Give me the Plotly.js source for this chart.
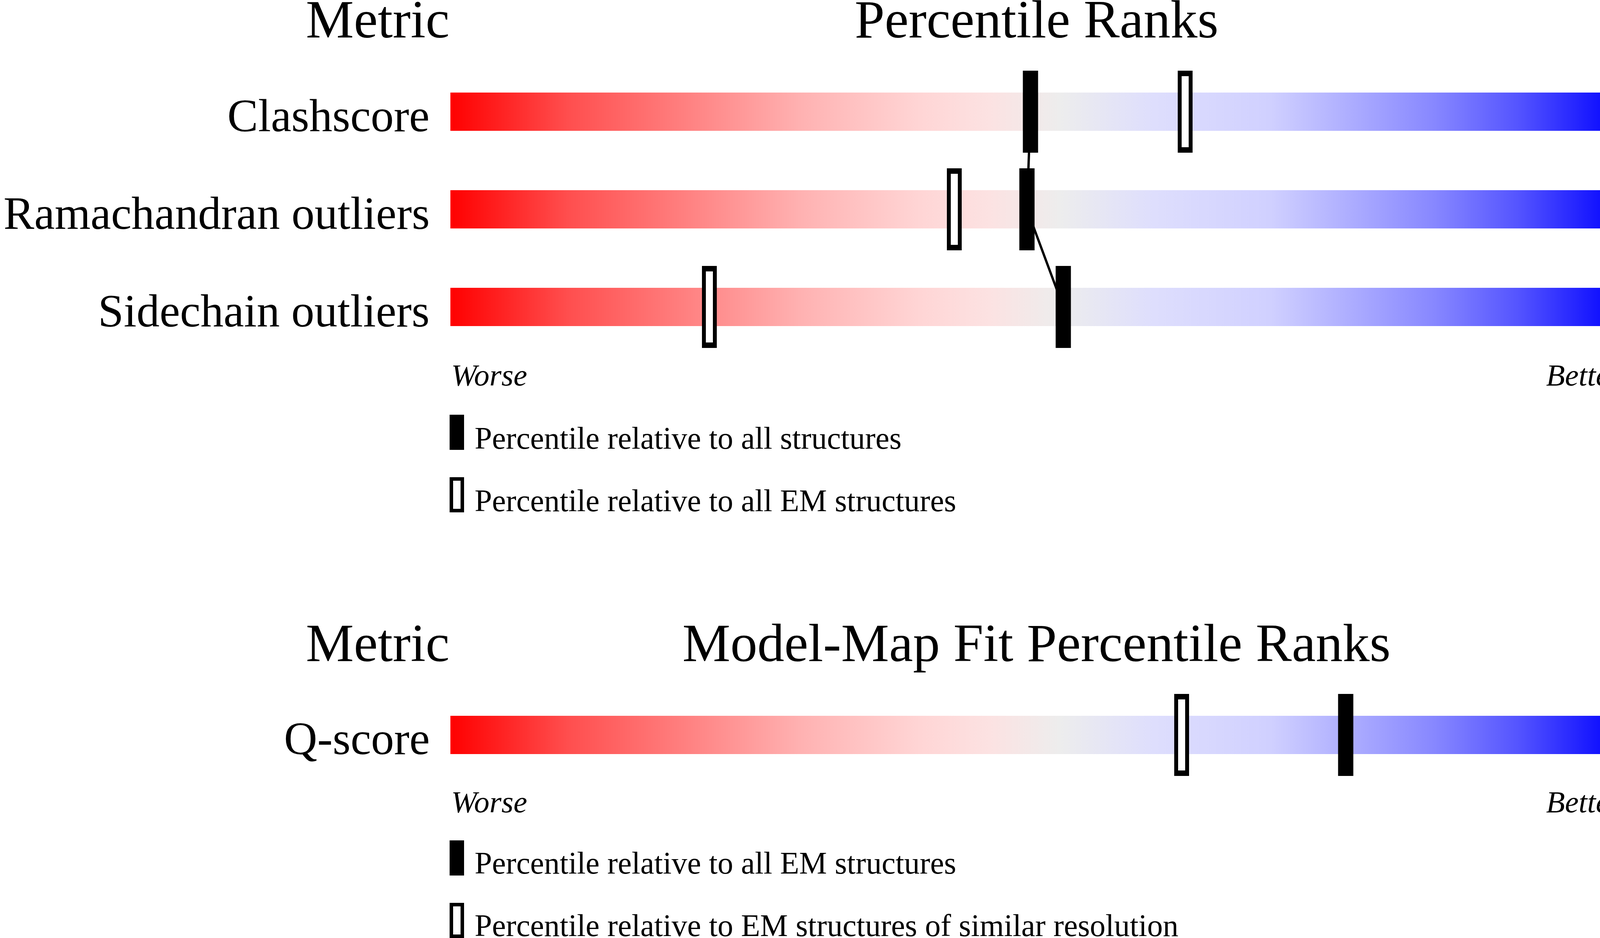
<!DOCTYPE html>
<html>
<head>
<meta charset="utf-8">
<script src="https://cdn.plot.ly/plotly-3.0.1.min.js"></script>
<style>
  html, body { margin: 0; padding: 0; background: #fff; }
  #chart { width: 4485px; height: 2402px; }
</style>
</head>
<body>
<div id="chart"></div>
<script>
// geometry / percentile rank data
const metrics = ["Clashscore", "Ramachandran outliers", "Sidechain outliers"];
const metricValues = ["6", "0.1%", "1.7%"];
const pctAll = [49.5, 49.2, 52.3];        // relative to all structures
const pctAllEM = [62.7, 43.0, 22.1];      // relative to all EM structures

// model-map fit
const fitMetrics = ["Q-score"];
const fitValues = ["0.525"];
const fitPctAllEM = [76.4];               // relative to all EM structures
const fitPctSimilar = [62.4];             // relative to EM structures of similar resolution

const W = 4485, H = 2402;
const FONT = "Liberation Serif, Times New Roman, serif";
const px = v => v / W;
const py = v => 1 - v / H;

const gradient = [
  [0, "rgb(255,0,0)"], [0.1, "rgb(255,78,78)"], [0.2, "rgb(255,128,128)"],
  [0.3, "rgb(255,178,178)"], [0.4, "rgb(255,213,213)"], [0.46, "rgb(252,226,226)"],
  [0.52, "rgb(237,237,237)"], [0.6, "rgb(222,222,253)"], [0.7, "rgb(208,208,255)"],
  [0.77, "rgb(172,172,255)"], [0.84, "rgb(135,135,255)"], [0.91, "rgb(85,85,255)"],
  [1, "rgb(0,0,255)"]
];

const HALF = 0.196;   // half bar height, in row units
const traces = [];

function addBars(n, yaxis) {
  for (let i = 0; i < n; i++) {
    traces.push({
      x: [0, 100, 100, 0, 0],
      y: [i - HALF, i - HALF, i + HALF, i + HALF, i - HALF],
      xaxis: "x", yaxis: yaxis,
      type: "scatter", mode: "lines", line: { width: 0 },
      fill: "toself",
      fillgradient: { type: "horizontal", colorscale: gradient, start: 0, stop: 100 },
      hoverinfo: "skip", showlegend: false
    });
  }
}

function filled(xs, yaxis) {
  traces.push({
    x: xs, y: xs.map((_, i) => i), xaxis: "x", yaxis: yaxis,
    type: "scatter", mode: "markers",
    marker: { symbol: "line-ns", size: 150, color: "#000", line: { width: 39, color: "#000" } },
    showlegend: false, hoverinfo: "skip"
  });
}

function open(xs, yaxis) {
  traces.push({
    x: xs, y: xs.map((_, i) => i), xaxis: "x", yaxis: yaxis,
    type: "scatter", mode: "markers",
    marker: { symbol: "line-ns", size: 150, color: "#000", line: { width: 38, color: "#000" } },
    showlegend: false, hoverinfo: "skip"
  });
  traces.push({
    x: xs, y: xs.map((_, i) => i), xaxis: "x", yaxis: yaxis,
    type: "scatter", mode: "markers",
    marker: { symbol: "line-ns", size: 130, color: "#fff", line: { width: 18, color: "#fff" } },
    showlegend: false, hoverinfo: "skip"
  });
}

// top section
addBars(metrics.length, "y");
traces.push({
  x: pctAll, y: pctAll.map((_, i) => i), xaxis: "x", yaxis: "y",
  type: "scatter", mode: "lines", line: { color: "#000", width: 6 },
  showlegend: false, hoverinfo: "skip"
});
open(pctAllEM, "y");
filled(pctAll, "y");

// bottom section
addBars(fitMetrics.length, "y2");
open(fitPctSimilar, "y2");
filled(fitPctAllEM, "y2");

const annotations = [];
function txt(text, x, y, size, xanchor, extra) {
  annotations.push(Object.assign({
    text: text, x: x, y: y, xref: "paper", yref: "paper",
    xanchor: xanchor, yanchor: "middle", showarrow: false,
    font: { family: FONT, size: size, color: "#000" }
  }, extra || {}));
}

function section(names, values, yaxis, headerY, centerTitle, worseY, legendYs, legendTexts) {
  txt("Metric", px(1153), py(headerY), 138, "right");
  txt(centerTitle, px(2653), py(headerY), 138, "center");
  txt("Value", px(4156), py(headerY), 138, "left");
  names.forEach((n, i) => {
    txt(n, px(1102), i, 118, "right", { yref: yaxis, yshift: -10 });
    txt(values[i], px(4202), i, 118, "left", { yref: yaxis, yshift: -10 });
  });
  txt("<i>Worse</i>", px(1153), py(worseY), 79, "left");
  txt("<i>Better</i>", px(4153), py(worseY), 79, "right");
  legendYs.forEach((ly, k) => txt(legendTexts[k], px(1213), py(ly), 80, "left"));
}

section(metrics, metricValues, "y", 50, "Percentile Ranks", 960, [1122, 1282],
  ["Percentile relative to all structures", "Percentile relative to all EM structures"]);
section(fitMetrics, fitValues, "y2", 1646, "Model-Map Fit Percentile Ranks", 2053, [2210, 2370],
  ["Percentile relative to all EM structures", "Percentile relative to EM structures of similar resolution"]);

// legend keys
const shapes = [];
function keyFilled(top) {
  shapes.push({ type: "rect", xref: "paper", yref: "paper",
    x0: px(1151), x1: px(1188), y0: py(top + 90), y1: py(top),
    fillcolor: "#000", line: { width: 0 } });
}
function keyOpen(top) {
  shapes.push({ type: "rect", xref: "paper", yref: "paper",
    x0: px(1155.5), x1: px(1183.5), y0: py(top + 85.5), y1: py(top + 4.5),
    fillcolor: "#fff", line: { width: 9, color: "#000" } });
}
keyFilled(1062); keyOpen(1222);
keyFilled(2152); keyOpen(2312);

const hidden = { visible: false, fixedrange: true, showgrid: false, zeroline: false };
const layout = {
  width: W, height: H,
  margin: { l: 0, r: 0, t: 0, b: 0 },
  paper_bgcolor: "#fff", plot_bgcolor: "rgba(0,0,0,0)",
  showlegend: false,
  xaxis: Object.assign({ domain: [px(1153), px(4153)], range: [0, 100], anchor: "y" }, hidden),
  yaxis: Object.assign({ domain: [py(1000), 1], range: [(1000 - 286) / 250, -286 / 250] }, hidden),
  yaxis2: Object.assign({ domain: [0, py(1400)], range: [(2402 - 1882) / 250, (1400 - 1882) / 250] }, hidden),
  annotations: annotations,
  shapes: shapes
};

Plotly.newPlot("chart", traces, layout, { staticPlot: true, displayModeBar: false });
</script>
</body>
</html>
